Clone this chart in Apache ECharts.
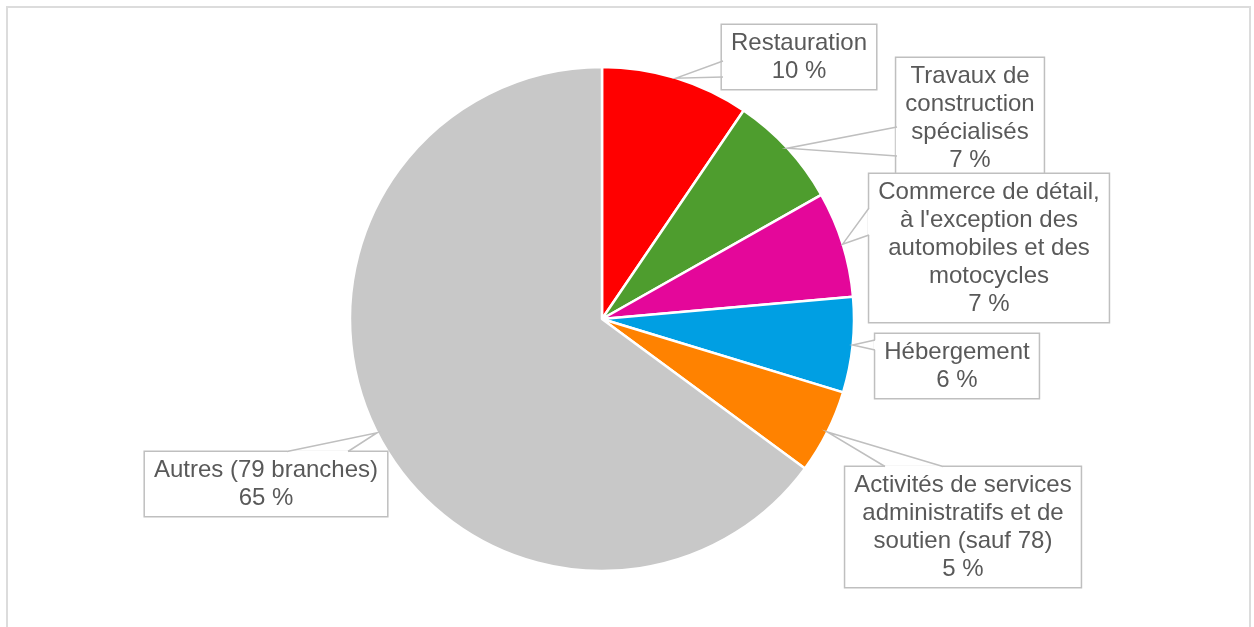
<!DOCTYPE html>
<html>
<head>
<meta charset="utf-8">
<script src="https://cdn.jsdelivr.net/npm/echarts@6/dist/echarts.min.js"></script>
<style>
  body { margin: 0; background: #fff; }
  .wrap { position: relative; width: 1254px; height: 627px; overflow: hidden; }
  .frame { position: absolute; left: 6px; top: 6px; width: 1241px; height: 660px; border: 2px solid #dcdcdc; }
  #chart { position: absolute; left: 0; top: 0; width: 1254px; height: 627px; }
</style>
</head>
<body>
<div class="wrap">
  <div class="frame"></div>
  <div id="chart"></div>
</div>
<script>
  // branches (parts en %)
  var branches = [
    'Restauration',
    'Travaux de\nconstruction\nspécialisés',
    "Commerce de détail,\nà l'exception des\nautomobiles et des\nmotocycles",
    'Hébergement',
    'Activités de services\nadministratifs et de\nsoutien (sauf 78)',
    'Autres (79 branches)'
  ];
  var parts = [9.5, 7.3, 6.8, 6.1, 5.4, 64.9];
  var couleurs = ['#ff0000', '#4e9d2e', '#e4079a', '#009fe3', '#ff8200', '#c8c8c8'];

  // mise en page des bulles : centre de l'étiquette et base de la pointe
  var labelPos = [[799, 57], [970, 118], [989, 248], [957, 366], [963, 527], [266, 484]];
  var pointeBase = [
    [[723, 61], [723, 77]],
    [[897, 127], [897, 156]],
    [[869, 208], [869, 235]],
    [[875, 340], [875, 350]],
    [[885, 466.5], [943, 466.5]],
    [[287, 451.5], [348, 451.5]]
  ];
  var centre = [602, 319];
  var rayon = 252;

  // pointes des bulles : milieu de chaque part sur le bord du camembert
  var total = parts.reduce(function (a, b) { return a + b; }, 0);
  var cumul = 0;
  var bulles = [];
  parts.forEach(function (v, i) {
    var a = (cumul + v / 2) / total * 2 * Math.PI;
    cumul += v;
    var tip = [centre[0] + rayon * Math.sin(a), centre[1] - rayon * Math.cos(a)];
    var b = pointeBase[i];
    bulles.push({
      type: 'line', z: 10, silent: true,
      shape: {x1: b[0][0], y1: b[0][1], x2: b[1][0], y2: b[1][1]},
      style: {stroke: '#fff', lineWidth: 2.5}
    });
    bulles.push({
      type: 'polyline', z: 11, silent: true,
      shape: {points: [b[0], tip, b[1]]},
      style: {stroke: '#bfbfbf', lineWidth: 1.5, fill: null}
    });
  });

  var myChart = echarts.init(document.getElementById('chart'));
  myChart.setOption({
    animation: false,
    graphic: bulles,
    series: [
      {
        type: 'pie',
        center: centre,
        radius: rayon,
        startAngle: 90,
        avoidLabelOverlap: false,
        data: branches.map(function (b, i) {
          return {name: b, value: parts[i], itemStyle: {color: couleurs[i]}};
        }),
        itemStyle: {borderColor: '#fff', borderWidth: 2.5},
        label: {
          show: true,
          position: 'outside',
          formatter: function (p) {
            return p.name + '\n' + Math.round(p.percent) + ' %';
          },
          fontFamily: 'Liberation Sans, Arial, sans-serif',
          fontSize: 24,
          lineHeight: 28,
          color: '#595959',
          align: 'center',
          backgroundColor: '#fff',
          borderColor: '#bfbfbf',
          borderWidth: 1.5,
          padding: [5, 9, 3, 9]
        },
        labelLine: {show: false},
        labelLayout: function (p) {
          var pos = labelPos[p.dataIndex];
          return {
            x: pos[0],
            y: pos[1],
            align: 'center',
            verticalAlign: 'middle',
            hideOverlap: false
          };
        },
        emphasis: {disabled: true}
      }
    ]
  });
</script>
</body>
</html>
